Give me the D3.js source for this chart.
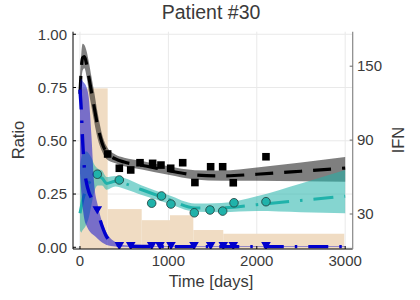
<!DOCTYPE html>
<html>
<head>
<meta charset="utf-8">
<script src="https://cdn.jsdelivr.net/npm/d3@7"></script>
<style>
  body { margin: 0; background: #fff; }
  svg { display: block; font-family: "Liberation Sans", Arial, sans-serif; }
</style>
</head>
<body>
<svg id="chart" width="420" height="300"></svg>
<script>
// observations
const squareDays = [313, 445, 574, 679, 822, 916, 1026, 1162, 1300, 1478, 1614, 1734, 2104];
const squareRatio = [0.438, 0.371, 0.363, 0.397, 0.394, 0.386, 0.371, 0.397, 0.304, 0.378, 0.378, 0.303, 0.425];
const circleDays = [196, 445, 811, 922, 1029, 1293, 1471, 1614, 1742, 2104];
const circleRatio = [0.343, 0.316, 0.207, 0.241, 0.203, 0.162, 0.175, 0.170, 0.209, 0.214];
const triangleDays = [196, 445, 574, 811, 905, 1029, 1290, 1478, 1621, 1734, 2104];
const triangleRatio = [0.18, 0.012, 0.012, 0.012, 0.012, 0.012, 0.012, 0.012, 0.012, 0.012, 0.012];

// model fits with bands
const modelDays = [0, 15, 30, 50, 75, 100, 130, 160, 200, 250, 300, 400, 500, 700, 1000, 1300, 1600, 2000, 2500, 3000];
const blackMean = [0.72, 0.84, 0.89, 0.895, 0.86, 0.80, 0.73, 0.66, 0.57, 0.49, 0.445, 0.415, 0.40, 0.385, 0.36, 0.34, 0.335, 0.343, 0.357, 0.372];
const blackLo = [0.62, 0.77, 0.83, 0.84, 0.80, 0.73, 0.66, 0.59, 0.51, 0.45, 0.415, 0.395, 0.38, 0.365, 0.34, 0.318, 0.312, 0.312, 0.31, 0.308];
const blackHi = [0.80, 0.91, 0.955, 0.95, 0.92, 0.87, 0.80, 0.73, 0.63, 0.53, 0.475, 0.435, 0.42, 0.405, 0.38, 0.362, 0.36, 0.375, 0.398, 0.424];
const tealMean = [0.16, 0.19, 0.22, 0.25, 0.28, 0.30, 0.32, 0.33, 0.33, 0.325, 0.30, 0.31, 0.30, 0.27, 0.225, 0.185, 0.185, 0.20, 0.22, 0.24];
const tealLo = [0.08, 0.07, 0.08, 0.09, 0.11, 0.14, 0.20, 0.26, 0.29, 0.29, 0.27, 0.285, 0.275, 0.245, 0.205, 0.167, 0.165, 0.17, 0.165, 0.16];
const tealHi = [0.38, 0.42, 0.44, 0.45, 0.45, 0.44, 0.42, 0.39, 0.37, 0.36, 0.33, 0.335, 0.325, 0.29, 0.245, 0.205, 0.208, 0.24, 0.30, 0.363];
const blueMean = [0.74, 0.64, 0.50, 0.37, 0.30, 0.26, 0.23, 0.20, 0.165, 0.10, 0.05, 0.015, 0.006, 0.004, 0.003, 0.003, 0.003, 0.003, 0.003, 0.003];
const blueLo = [0.35, 0.26, 0.19, 0.13, 0.10, 0.08, 0.065, 0.055, 0.04, 0.022, 0.011, 0.004, 0.002, 0.001, 0.001, 0.001, 0.001, 0.001, 0.001, 0.001];
const blueHi = [0.77, 0.79, 0.78, 0.77, 0.75, 0.70, 0.52, 0.30, 0.20, 0.12, 0.07, 0.025, 0.01, 0.006, 0.005, 0.005, 0.005, 0.005, 0.005, 0.005];

// IFN dose steps
const ifnStart = [0, 313, 698, 1018, 1282, 1621];
const ifnEnd = [313, 698, 1018, 1282, 1621, 2990];
const ifnDose = [132, 34, 25, 29, 17, 14];

const xTicks = [0, 1000, 2000, 3000];
const yTicks = [0, 0.25, 0.5, 0.75, 1.0];
const ifnTicks = [30, 90, 150];

const svg = d3.select("#chart");
const pLeft = 73, pRight = 352.7, pTop = 31.7, pBottom = 249;

const x = d3.scaleLinear().domain([-79, 3085]).range([pLeft, pRight]);
const y = d3.scaleLinear().domain([-0.008, 1.012]).range([pBottom, pTop]);
const yIfn = d3.scaleLinear().domain([1.6, 178]).range([pBottom, pTop]);

svg.append("clipPath").attr("id", "plot")
    .append("rect").attr("x", pLeft).attr("y", pTop)
    .attr("width", pRight - pLeft).attr("height", pBottom - pTop);

// grid
const grid = svg.append("g").attr("stroke", "#e9e9e9").attr("stroke-width", 1);
xTicks.forEach(t => grid.append("line").attr("x1", x(t)).attr("x2", x(t)).attr("y1", pTop).attr("y2", pBottom));
yTicks.forEach(t => grid.append("line").attr("x1", pLeft).attr("x2", pRight).attr("y1", y(t)).attr("y2", y(t)));

const plot = svg.append("g").attr("clip-path", "url(#plot)");

// IFN bars
plot.selectAll(".ifn")
    .data(ifnDose)
    .enter().append("rect")
    .attr("x", (d, i) => x(ifnStart[i]))
    .attr("width", (d, i) => x(ifnEnd[i]) - x(ifnStart[i]))
    .attr("y", d => yIfn(d))
    .attr("height", d => yIfn(0) - yIfn(d))
    .attr("fill", "#f0dcc3");

const band = (lo, hi) => d3.area()
    .x((d, i) => x(modelDays[i]))
    .y0((d, i) => y(lo[i]))
    .y1((d, i) => y(hi[i]))
    .curve(d3.curveMonotoneX)(modelDays);
const line = vals => d3.line()
    .x((d, i) => x(modelDays[i]))
    .y((d, i) => y(vals[i]))
    .curve(d3.curveMonotoneX)(modelDays);

// black series
plot.append("path").attr("d", band(blackLo, blackHi)).attr("fill", "#000").attr("fill-opacity", 0.5);
plot.append("path").attr("d", line(blackMean)).attr("fill", "none")
    .attr("stroke", "#000").attr("stroke-width", 3.2).attr("stroke-dasharray", "18,11");
plot.selectAll(".sq")
    .data(squareDays)
    .enter().append("rect")
    .attr("x", (d, i) => x(d) - 3.8).attr("y", (d, i) => y(squareRatio[i]) - 3.8)
    .attr("width", 7.6).attr("height", 7.6).attr("fill", "#000");

// teal series
plot.append("path").attr("d", band(tealLo, tealHi)).attr("fill", "#20b2aa").attr("fill-opacity", 0.55);
plot.append("path").attr("d", line(tealMean)).attr("fill", "none")
    .attr("stroke", "#20b2aa").attr("stroke-width", 3).attr("stroke-dasharray", "20,11,2.5,11");
plot.selectAll(".ci")
    .data(circleDays)
    .enter().append("circle")
    .attr("cx", d => x(d)).attr("cy", (d, i) => y(circleRatio[i])).attr("r", 4.3)
    .attr("fill", "#20b2aa").attr("stroke", "#1f3b39").attr("stroke-width", 0.8);

// blue series
plot.append("path").attr("d", band(blueLo, blueHi)).attr("fill", "#0000cd").attr("fill-opacity", 0.5);
plot.append("path").attr("d", line(blueMean)).attr("fill", "none")
    .attr("stroke", "#0000cd").attr("stroke-width", 3.4).attr("stroke-dasharray", "20,11,2.5,11");
const tri = d3.symbol().type(d3.symbolTriangle).size(40);
plot.selectAll(".tr")
    .data(triangleDays)
    .enter().append("path")
    .attr("d", tri)
    .attr("transform", (d, i) => `translate(${x(d)},${y(triangleRatio[i])}) rotate(180)`)
    .attr("fill", "#0000cd");

// axes
const axes = svg.append("g");
axes.append("line").attr("x1", pLeft).attr("x2", pLeft).attr("y1", pTop).attr("y2", pBottom).attr("stroke", "#000");
axes.append("line").attr("x1", pLeft).attr("x2", pRight).attr("y1", pBottom).attr("y2", pBottom).attr("stroke", "#000");
axes.append("line").attr("x1", pRight).attr("x2", pRight).attr("y1", pTop).attr("y2", pBottom).attr("stroke", "#888").attr("stroke-width", 1.2);

xTicks.forEach(t => {
    axes.append("line").attr("x1", x(t)).attr("x2", x(t)).attr("y1", pBottom).attr("y2", pBottom - 3).attr("stroke", "#000");
    axes.append("text").attr("x", x(t)).attr("y", 266).attr("text-anchor", "middle")
        .attr("font-size", 15).attr("fill", "#3a3a3a").text(t);
});
yTicks.forEach(t => {
    axes.append("line").attr("x1", pLeft).attr("x2", pLeft + 3).attr("y1", y(t)).attr("y2", y(t)).attr("stroke", "#000");
    axes.append("text").attr("x", 67).attr("y", y(t) + 5.3).attr("text-anchor", "end")
        .attr("font-size", 15).attr("fill", "#3a3a3a").text(d3.format(".2f")(t));
});
ifnTicks.forEach(t => {
    axes.append("line").attr("x1", pRight - 3).attr("x2", pRight).attr("y1", yIfn(t)).attr("y2", yIfn(t)).attr("stroke", "#666");
    axes.append("text").attr("x", 357).attr("y", yIfn(t) + 5.3).attr("text-anchor", "start")
        .attr("font-size", 15).attr("fill", "#3a3a3a").text(t);
});

svg.append("text").attr("x", 211).attr("y", 19).attr("text-anchor", "middle")
    .attr("font-size", 19.5).attr("fill", "#3a3a3a").text("Patient #30");
svg.append("text").attr("x", 211).attr("y", 287).attr("text-anchor", "middle")
    .attr("font-size", 16.5).attr("fill", "#3a3a3a").text("Time [days]");
svg.append("text").attr("transform", "translate(24,140) rotate(-90)").attr("text-anchor", "middle")
    .attr("font-size", 16.5).attr("fill", "#3a3a3a").text("Ratio");
svg.append("text").attr("transform", "translate(404,140) rotate(-90)").attr("text-anchor", "middle")
    .attr("font-size", 16.5).attr("fill", "#3a3a3a").text("IFN");
</script>
</body>
</html>
